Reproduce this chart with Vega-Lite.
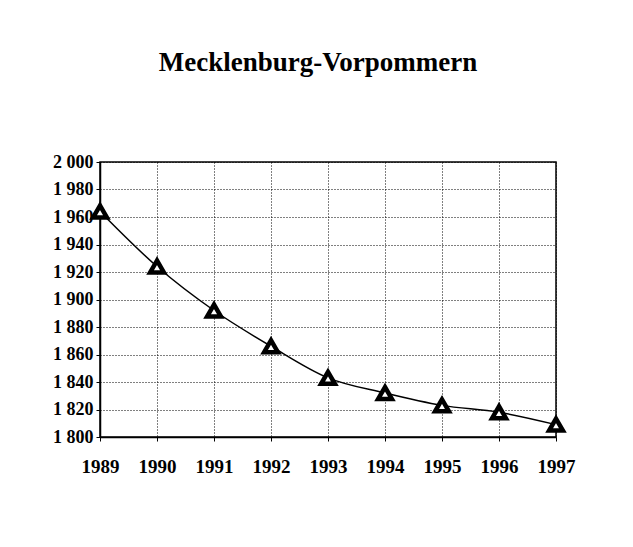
{
  "$schema": "https://vega.github.io/schema/vega-lite/v6.json",
  "width": 456,
  "height": 275,
  "autosize": {"type": "none"},
  "padding": {"left": 100, "top": 162, "right": 77, "bottom": 110},
  "background": "white",
  "title": {
    "text": "Mecklenburg-Vorpommern",
    "font": "Liberation Serif",
    "fontSize": 27,
    "fontWeight": "bold",
    "color": "black",
    "anchor": "middle",
    "offset": 76,
    "dx": -10
  },
  "data": {
    "values": [
      {"year": 1989, "value": 1964},
      {"year": 1990, "value": 1924},
      {"year": 1991, "value": 1892},
      {"year": 1992, "value": 1866},
      {"year": 1993, "value": 1843},
      {"year": 1994, "value": 1832},
      {"year": 1995, "value": 1823},
      {"year": 1996, "value": 1818},
      {"year": 1997, "value": 1809}
    ]
  },
  "encoding": {
    "x": {
      "field": "year",
      "type": "quantitative",
      "scale": {"domain": [1989, 1997], "nice": false, "zero": false},
      "axis": {
        "title": null,
        "values": [1989, 1990, 1991, 1992, 1993, 1994, 1995, 1996, 1997],
        "format": "d",
        "labelFont": "Liberation Serif",
        "labelFontSize": 19,
        "labelFontWeight": "bold",
        "labelColor": "black",
        "labelPadding": 16,
        "domainColor": "black",
        "domainWidth": 1.5,
        "tickColor": "black",
        "tickSize": 4,
        "grid": true,
        "gridColor": "black",
        "gridDash": [1, 2],
        "gridWidth": 1,
        "labelFlush": false
      }
    },
    "y": {
      "field": "value",
      "type": "quantitative",
      "scale": {"domain": [1800, 2000], "nice": false, "zero": false},
      "axis": {
        "title": null,
        "values": [1800, 1820, 1840, 1860, 1880, 1900, 1920, 1940, 1960, 1980, 2000],
        "labelExpr": "replace(format(datum.value, ','), ',', ' ')",
        "labelFont": "Liberation Serif",
        "labelFontSize": 18,
        "labelFontWeight": "bold",
        "labelColor": "black",
        "labelPadding": 3,
        "domainColor": "black",
        "domainWidth": 1.5,
        "tickColor": "black",
        "tickSize": 4,
        "grid": true,
        "gridColor": "black",
        "gridDash": [1, 2],
        "gridWidth": 1
      }
    }
  },
  "layer": [
    {
      "mark": {"type": "line", "color": "black", "strokeWidth": 1.5, "interpolate": "monotone"}
    },
    {
      "mark": {"type": "point", "shape": "triangle-up", "filled": true, "fill": "white", "stroke": "black", "strokeWidth": 4.5, "size": 190, "opacity": 1}
    }
  ],
  "config": {
    "view": {"stroke": "black", "strokeWidth": 1.5}
  }
}
